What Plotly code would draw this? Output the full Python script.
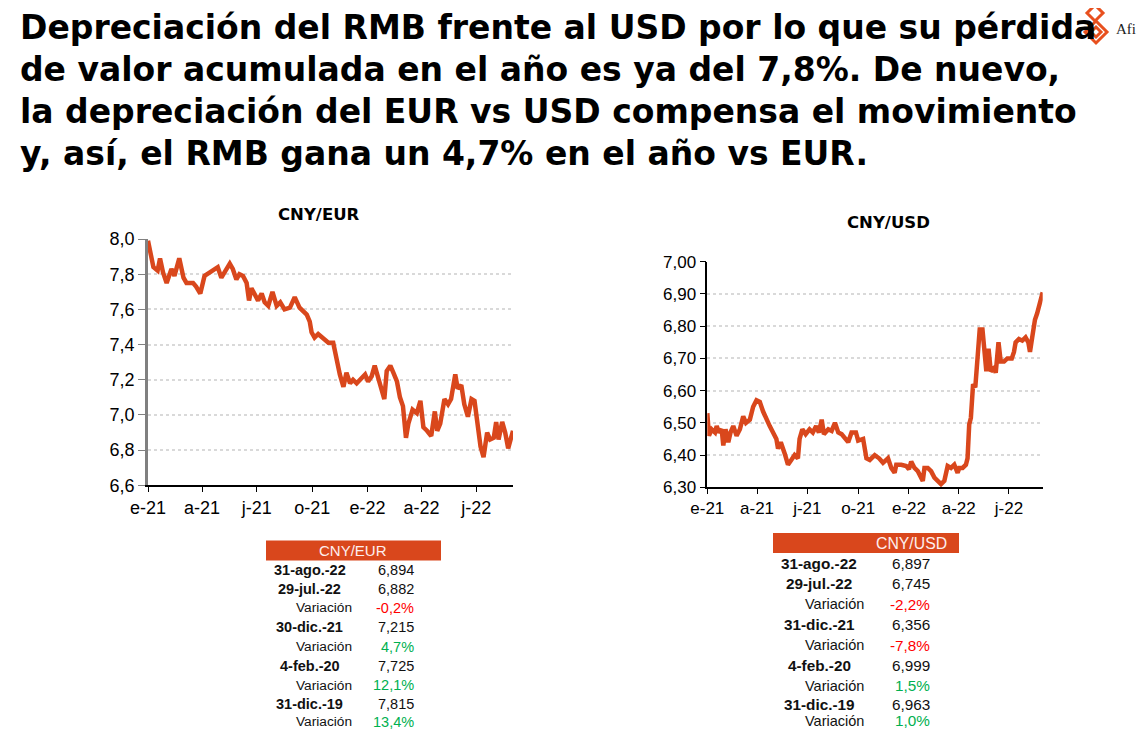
import plotly.graph_objects as go

W, H = 1145, 739
OFF = 8  # default page margin around the plot div
ORANGE = "#D9471C"
GREEN = "#00B050"
RED = "#FF0000"

# --- data -------------------------------------------------------------
title_lines = [
    "Depreciación del RMB frente al USD por lo que su pérdida",
    "de valor acumulada en el año es ya del 7,8%. De nuevo,",
    "la depreciación del EUR vs USD compensa el movimiento",
    "y, así, el RMB gana un 4,7% en el año vs EUR.",
]

tick_dates = ["2021-01-01", "2021-04-01", "2021-07-01", "2021-10-01",
              "2022-01-01", "2022-04-01", "2022-07-01"]
tick_text = ["e-21", "a-21", "j-21", "o-21", "e-22", "a-22", "j-22"]

eur_dates = [
    "2021-01-01", "2021-01-04", "2021-01-07", "2021-01-10", "2021-01-17", "2021-01-21",
    "2021-01-26", "2021-02-01", "2021-02-09", "2021-02-14", "2021-02-22", "2021-03-01",
    "2021-03-06", "2021-03-17", "2021-03-22", "2021-03-29", "2021-04-05", "2021-04-13",
    "2021-04-22", "2021-04-27", "2021-05-03", "2021-05-08", "2021-05-17", "2021-05-22",
    "2021-05-28", "2021-06-02", "2021-06-08", "2021-06-14", "2021-06-18", "2021-06-22",
    "2021-06-27", "2021-07-03", "2021-07-09", "2021-07-14", "2021-07-20", "2021-07-27",
    "2021-08-03", "2021-08-09", "2021-08-16", "2021-08-25", "2021-09-02", "2021-09-10",
    "2021-09-22", "2021-09-27", "2021-09-30", "2021-10-05", "2021-10-11", "2021-10-17",
    "2021-10-22", "2021-10-28", "2021-11-05", "2021-11-11", "2021-11-16", "2021-11-22",
    "2021-11-27", "2021-12-03", "2021-12-08", "2021-12-14", "2021-12-22", "2021-12-28",
    "2022-01-02", "2022-01-08", "2022-01-13", "2022-01-19", "2022-01-25", "2022-01-29",
    "2022-02-02", "2022-02-08", "2022-02-13", "2022-02-19", "2022-02-24", "2022-03-01",
    "2022-03-06", "2022-03-10", "2022-03-17", "2022-03-24", "2022-03-30", "2022-04-04",
    "2022-04-10", "2022-04-17", "2022-04-23", "2022-04-27", "2022-05-02", "2022-05-09",
    "2022-05-15", "2022-05-20", "2022-05-27", "2022-05-31", "2022-06-06", "2022-06-11",
    "2022-06-17", "2022-06-23", "2022-06-28", "2022-07-02", "2022-07-08", "2022-07-13",
    "2022-07-19", "2022-07-24", "2022-07-30", "2022-08-03", "2022-08-07", "2022-08-13",
    "2022-08-18", "2022-08-23", "2022-08-28", "2022-08-31",
]
eur_vals = [
    7.99, 7.94, 7.92, 7.84, 7.82, 7.89,
    7.81, 7.75, 7.83, 7.79, 7.89, 7.78,
    7.75, 7.75, 7.73, 7.69, 7.79, 7.81,
    7.83, 7.84, 7.78, 7.81, 7.86, 7.83,
    7.77, 7.80, 7.79, 7.75, 7.65, 7.72,
    7.69, 7.65, 7.69, 7.64, 7.62, 7.70,
    7.62, 7.64, 7.60, 7.61, 7.67, 7.61,
    7.57, 7.53, 7.47, 7.44, 7.46, 7.44,
    7.43, 7.41, 7.41, 7.31, 7.23, 7.16,
    7.24, 7.18, 7.20, 7.18, 7.21, 7.23,
    7.19, 7.22, 7.28, 7.20, 7.14, 7.09,
    7.25, 7.28, 7.24, 7.19, 7.10, 7.05,
    6.87, 6.95, 7.03, 7.01, 7.08, 6.93,
    6.91, 6.88, 7.02, 6.91, 6.95, 7.09,
    7.06, 7.09, 7.23, 7.15, 7.17, 7.06,
    6.99, 7.09, 7.08, 6.98, 6.82, 6.76,
    6.90, 6.86, 6.87, 6.96, 6.86, 6.96,
    6.90, 6.81, 6.88, 6.91,
]

usd_dates = [
    "2021-01-01", "2021-01-04", "2021-01-09", "2021-01-15", "2021-01-18", "2021-01-22",
    "2021-01-27", "2021-01-30", "2021-02-03", "2021-02-08", "2021-02-12", "2021-02-17",
    "2021-02-23", "2021-03-01", "2021-03-07", "2021-03-12", "2021-03-19", "2021-03-25",
    "2021-03-31", "2021-04-06", "2021-04-12", "2021-04-18", "2021-04-24", "2021-04-30",
    "2021-05-06", "2021-05-09", "2021-05-14", "2021-05-21", "2021-05-27", "2021-06-02",
    "2021-06-08", "2021-06-14", "2021-06-17", "2021-06-22", "2021-06-28", "2021-07-05",
    "2021-07-11", "2021-07-17", "2021-07-22", "2021-07-27", "2021-07-31", "2021-08-08",
    "2021-08-14", "2021-08-20", "2021-08-26", "2021-09-01", "2021-09-07", "2021-09-13",
    "2021-09-19", "2021-09-27", "2021-10-01", "2021-10-10", "2021-10-16", "2021-10-22",
    "2021-10-31", "2021-11-08", "2021-11-15", "2021-11-24", "2021-11-30", "2021-12-06",
    "2021-12-09", "2021-12-18", "2021-12-27", "2022-01-01", "2022-01-05", "2022-01-11",
    "2022-01-17", "2022-01-23", "2022-01-26", "2022-01-29", "2022-02-04", "2022-02-10",
    "2022-02-16", "2022-02-22", "2022-02-28", "2022-03-06", "2022-03-12", "2022-03-18",
    "2022-03-24", "2022-03-30", "2022-04-02", "2022-04-08", "2022-04-14", "2022-04-17",
    "2022-04-20", "2022-04-23", "2022-04-27", "2022-05-01", "2022-05-05", "2022-05-09",
    "2022-05-14", "2022-05-17", "2022-05-21", "2022-05-25", "2022-05-29", "2022-06-04",
    "2022-06-07", "2022-06-12", "2022-06-16", "2022-06-22", "2022-06-28", "2022-07-06",
    "2022-07-10", "2022-07-13", "2022-07-19", "2022-07-25", "2022-07-31", "2022-08-05",
    "2022-08-08", "2022-08-12", "2022-08-17", "2022-08-21", "2022-08-26", "2022-08-31",
]
usd_vals = [
    6.53, 6.46, 6.48, 6.47, 6.49, 6.47,
    6.48, 6.43, 6.48, 6.44, 6.47, 6.49,
    6.46, 6.48, 6.52, 6.50, 6.51, 6.55,
    6.57, 6.565, 6.535, 6.51, 6.49, 6.47,
    6.45, 6.42, 6.44, 6.405, 6.37, 6.385,
    6.40, 6.39, 6.45, 6.48, 6.465, 6.48,
    6.47, 6.49, 6.47, 6.51, 6.465, 6.48,
    6.475, 6.50, 6.47, 6.465, 6.45, 6.44,
    6.47, 6.47, 6.445, 6.45, 6.39, 6.385,
    6.40, 6.39, 6.376, 6.39, 6.36, 6.345,
    6.37, 6.37, 6.366, 6.356, 6.38, 6.36,
    6.35, 6.325, 6.32, 6.36, 6.36, 6.35,
    6.33, 6.32, 6.31, 6.32, 6.366, 6.36,
    6.37, 6.345, 6.36, 6.36, 6.37, 6.39,
    6.495, 6.515, 6.62, 6.61, 6.705, 6.79,
    6.79, 6.72, 6.66, 6.73, 6.66, 6.67,
    6.655, 6.75, 6.69, 6.69, 6.70, 6.70,
    6.72, 6.75, 6.76, 6.755, 6.765, 6.75,
    6.72, 6.765, 6.82, 6.84, 6.88, 6.905,
]

row_labels_eur = ["31-ago.-22", "29-jul.-22", "Variación", "30-dic.-21", "Variación",
                  "4-feb.-20", "Variación", "31-dic.-19", "Variación"]
row_values_eur = ["6,894", "6,882", "-0,2%", "7,215", "4,7%", "7,725", "12,1%", "7,815", "13,4%"]
row_labels_usd = ["31-ago.-22", "29-jul.-22", "Variación", "31-dic.-21", "Variación",
                  "4-feb.-20", "Variación", "31-dic.-19", "Variación"]
row_values_usd = ["6,897", "6,745", "-2,2%", "6,356", "-7,8%", "6,999", "1,5%", "6,963", "1,0%"]

FW, FH = W - 2 * OFF, H - 2 * OFF


def px(x):
    # page pixel -> paper fraction
    return (x - OFF) / FW


def py(y):
    return 1 - (y - OFF) / FH


TITLE_FONT = "DejaVu Sans"
TABLE_FONT = "Liberation Sans"

fig = go.Figure()
fig.add_trace(go.Scatter(x=eur_dates, y=eur_vals, mode="lines", xaxis="x", yaxis="y",
                         line=dict(color=ORANGE, width=4.5), showlegend=False))
fig.add_trace(go.Scatter(x=usd_dates, y=usd_vals, mode="lines", xaxis="x2", yaxis="y2",
                         line=dict(color=ORANGE, width=4.5), showlegend=False))

xcommon = dict(type="date", range=["2021-01-01", "2022-08-31"], tickvals=tick_dates,
               ticktext=tick_text, ticks="outside", ticklen=5, tickcolor="#000",
               showline=True, linecolor="#000", linewidth=1.5, showgrid=False,
               zeroline=False, fixedrange=True, automargin=False)
fig.update_layout(
    template="none",
    width=FW, height=FH, autosize=False,
    margin=dict(l=0, r=0, t=0, b=0, pad=0),
    paper_bgcolor="white", plot_bgcolor="white",
    xaxis=dict(xcommon, domain=[px(148), px(513)], anchor="y",
               tickfont=dict(family=TABLE_FONT, size=18, color="#000")),
    yaxis=dict(domain=[py(485.3), py(239)], anchor="x", range=[6.6, 8.0], dtick=0.2,
               tickformat=".1f", ticks="outside", ticklen=7, tickcolor="#808080",
               showline=True, linecolor="#808080", linewidth=2.5, automargin=False,
               showgrid=True, gridcolor="#d9d9d9", griddash="dot", gridwidth=1.5,
               zeroline=False, tickfont=dict(family=TABLE_FONT, size=18, color="#000")),
    xaxis2=dict(xcommon, domain=[px(707.3), px(1042.7)], anchor="y2",
                tickfont=dict(family=TABLE_FONT, size=17, color="#000")),
    yaxis2=dict(domain=[py(487.3), py(261.7)], anchor="x2", range=[6.3, 7.0], dtick=0.1,
                tickformat=".2f", ticks="outside", ticklen=6, tickcolor="#000",
                showline=True, linecolor="#000", linewidth=1.5, automargin=False,
                showgrid=True, gridcolor="#d9d9d9", griddash="dot", gridwidth=1.5,
                zeroline=False, tickfont=dict(family=TABLE_FONT, size=17, color="#000")),
    separators=",.",
)

ann = []


def note(text, x, y, size, family=TABLE_FONT, color="#000", xanchor="center"):
    ann.append(dict(text=text, x=px(x), y=py(y), xref="paper", yref="paper",
                    xanchor=xanchor, yanchor="middle", showarrow=False,
                    font=dict(family=family, size=size, color=color)))


# headline
for i, line in enumerate(title_lines):
    note("<b>" + line + "</b>", 18, 27 + i * 42.3, 33, TITLE_FONT, xanchor="left")
# chart titles
note("<b>CNY/EUR</b>", 319, 214, 16.5, TITLE_FONT)
note("<b>CNY/USD</b>", 888, 222, 16.5, TITLE_FONT)
# logo text
note("Afi", 1114, 29, 15, "Liberation Serif", "#222", xanchor="left")

shapes = []


def add_table(labels, values, x0, x1, y_head, rows_y, x_date, x_var, x_val, header, hx, fs):
    shapes.append(dict(type="rect", xref="paper", yref="paper", x0=px(x0), x1=px(x1),
                       y0=py(y_head + 10), y1=py(y_head - 10),
                       fillcolor=ORANGE, line=dict(width=0), layer="below"))
    note(header, hx, y_head, fs + 0.5, color="#fdeeee")
    for lab, val, yy in zip(labels, values, rows_y):
        is_var = lab == "Variación"
        if is_var:
            note(lab, x_var, yy, fs - 0.8, color="#111")
        else:
            note("<b>" + lab + "</b>", x_date, yy, fs, color="#111")
        col = "#111"
        if val.endswith("%"):
            col = RED if val.startswith("-") else GREEN
        note(val, x_val, yy, fs, color=col, xanchor="right")


add_table(row_labels_eur, row_values_eur, 266, 441, 550.5,
          [570, 588.5, 607.5, 627, 646.5, 665.5, 685, 704, 721.5],
          309.5, 323.5, 416, "CNY/EUR", 353, 14.5)
add_table(row_labels_usd, row_values_usd, 773, 959, 543,
          [563.5, 583.5, 604, 624.5, 645, 665.5, 685.5, 704, 720.5],
          819.5, 834, 932, "CNY/USD", 911.7, 15.3)


# logo mark: stacked diamonds
def diamond(cx, cy, r):
    pts = [(cx, cy - r), (cx + r, cy), (cx, cy + r), (cx - r, cy)]
    return "M " + " L ".join(f"{px(a)},{py(b)}" for a, b in pts) + " Z"


for cx, cy, r in [(1095, 13, 8), (1096, 32, 11), (1096, 32, 5)]:
    shapes.append(dict(type="path", xref="paper", yref="paper", path=diamond(cx, cy, r),
                       line=dict(color="#E8501E", width=3)))

fig.update_layout(annotations=ann, shapes=shapes)
fig.write_html("out.html")
